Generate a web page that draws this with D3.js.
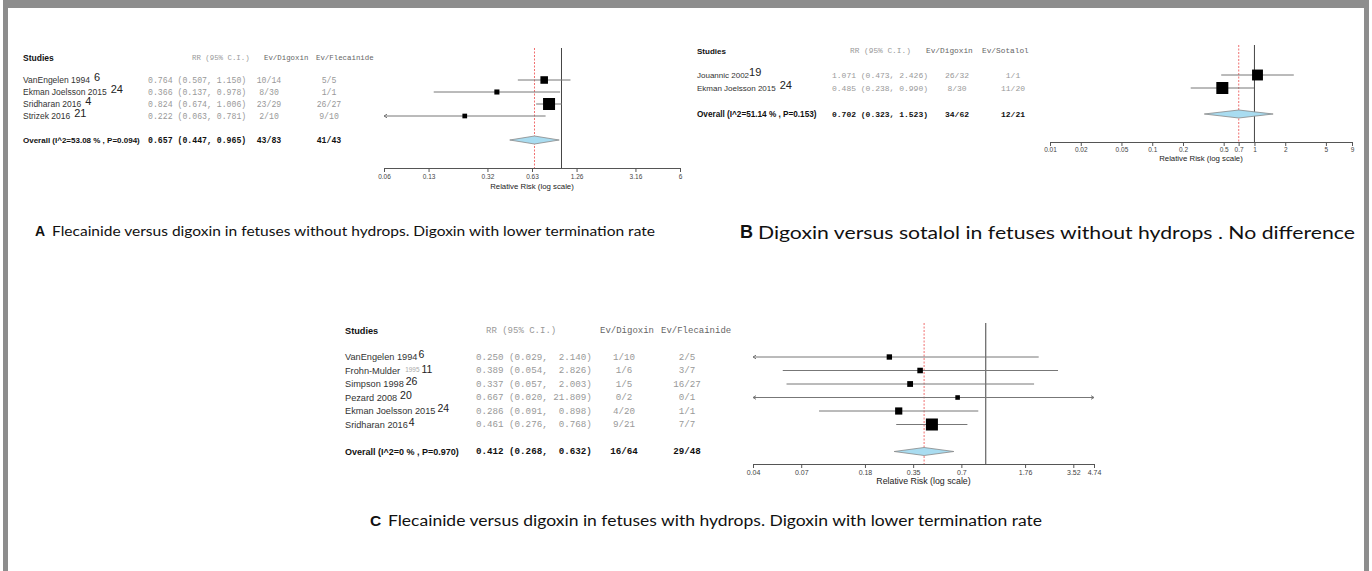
<!DOCTYPE html>
<html>
<head>
<meta charset="utf-8">
<script src="https://cdn.jsdelivr.net/npm/d3@7"></script>
<style>
  body { margin: 0; background: #fff; }
  svg { display: block; }
</style>
</head>
<body>
<svg id="fig" width="1372" height="571"></svg>
<script>
// ---- panel A: flecainide vs digoxin, no hydrops
const studiesA = ["VanEngelen 1994", "Ekman Joelsson 2015", "Sridharan 2016", "Strizek 2016"];
const refsA = ["6", "24", "4", "21"];
const rrA = [0.764, 0.366, 0.824, 0.222];
const loA = [0.507, 0.137, 0.674, 0.063];
const hiA = [1.150, 0.978, 1.006, 0.781];
const evDigA = ["10/14", "8/30", "23/29", "2/10"];
const evFlecA = ["5/5", "1/1", "26/27", "9/10"];
const overallA = [0.657, 0.447, 0.965];
const overallEvA = ["43/83", "41/43"];
const hetA = "Overall (I^2=53.08 % , P=0.094)";
const tickValsA = [0.0632, 0.1264, 0.316, 0.632, 1.264, 3.16, 6.32];
const tickLabsA = ["0.06", "0.13", "0.32", "0.63", "1.26", "3.16", "6"];

// ---- panel B: digoxin vs sotalol, no hydrops
const studiesB = ["Jouannic 2002", "Ekman Joelsson 2015"];
const refsB = ["19", "24"];
const rrB = [1.071, 0.485];
const loB = [0.473, 0.238];
const hiB = [2.426, 0.990];
const evDigB = ["26/32", "8/30"];
const evSotB = ["1/1", "11/20"];
const overallB = [0.702, 0.323, 1.523];
const overallEvB = ["34/62", "12/21"];
const hetB = "Overall (I^2=51.14 % , P=0.153)";
const tickValsB = [0.01, 0.02, 0.05, 0.1, 0.2, 0.5, 0.7, 1, 2, 5, 9];
const tickLabsB = ["0.01", "0.02", "0.05", "0.1", "0.2", "0.5", "0.7", "1", "2", "5", "9"];

// ---- panel C: flecainide vs digoxin, hydrops
const studiesC = ["VanEngelen 1994", "Frohn-Mulder", "Simpson 1998", "Pezard 2008", "Ekman Joelsson 2015", "Sridharan 2016"];
const faintC = ["", "1995", "", "", "", ""];
const refsC = ["6", "11", "26", "20", "24", "4"];
const rrC = [0.250, 0.389, 0.337, 0.667, 0.286, 0.461];
const loC = [0.029, 0.054, 0.057, 0.020, 0.091, 0.276];
const hiC = [2.140, 2.826, 2.003, 21.809, 0.898, 0.768];
const evDigC = ["1/10", "1/6", "1/5", "0/2", "4/20", "9/21"];
const evFlecC = ["2/5", "3/7", "16/27", "0/1", "1/1", "7/7"];
const overallC = [0.412, 0.268, 0.632];
const overallEvC = ["16/64", "29/48"];
const hetC = "Overall (I^2=0 % , P=0.970)";
const tickValsC = [0.0352, 0.0704, 0.176, 0.352, 0.704, 1.76, 3.52, 4.74];
const tickLabsC = ["0.04", "0.07", "0.18", "0.35", "0.7", "1.76", "3.52", "4.74"];

const captions = [
  ["A", "Flecainide versus digoxin in fetuses without hydrops. Digoxin with lower termination rate"],
  ["B", "Digoxin versus sotalol in fetuses without hydrops . No difference"],
  ["C", "Flecainide versus digoxin in fetuses with hydrops. Digoxin with lower termination rate"]
];

const SANS = "'Liberation Sans', Arial, sans-serif";
const MONO = "'Liberation Mono', 'Courier New', monospace";
const svg = d3.select("#fig");

// frame
const frame = svg.append("g").attr("fill", "#8d8d8d");
frame.append("rect").attr("x", 3).attr("y", 0).attr("width", 1366).attr("height", 8);
frame.append("rect").attr("x", 3).attr("y", 0).attr("width", 5).attr("height", 571);
frame.append("rect").attr("x", 1364).attr("y", 0).attr("width", 5).attr("height", 571);

const f3 = d3.format(".3f");
function ciText(r, l, h, w) {
  return f3(r) + " (" + f3(l) + ", " + f3(h).padStart(w) + ")";
}

function forest(d, L) {
  const g = svg.append("g");
  const n = d.names.length;
  const x = d3.scaleLog().domain([d.ticks[0], d.ticks[d.ticks.length - 1]]).range([L.x0, L.x1]);
  const rowY = i => L.row0 + i * L.step;
  const ovY = rowY(n + 1);
  const w = d3.max(d.hi.concat([d.ov[2]]), v => f3(v).length);

  // box size from inverse-variance weight
  const sw = d.lo.map((l, i) => 3.92 / (Math.log(d.hi[i]) - Math.log(l)));
  const boxS = d3.scaleLinear().domain([0, d3.max(sw)]).range([3.3, 12]);

  // headers
  g.append("text").attr("x", L.nameX).attr("y", L.headY).attr("dominant-baseline", "central")
    .attr("font-family", SANS).attr("font-weight", "bold").attr("font-size", L.nameFs).attr("fill", "#111")
    .text("Studies");
  const hdr = [[L.hdrRR, "RR (95% C.I.)", "#999"], [L.hdrDig, d.hdr[0], "#666"], [L.hdrOth, d.hdr[1], "#666"]];
  g.selectAll(".hdr").data(hdr).join("text")
    .attr("x", h => h[0]).attr("y", L.headY).attr("dominant-baseline", "central")
    .attr("font-family", MONO).attr("font-size", L.hdrFs).attr("fill", h => h[2])
    .attr("xml:space", "preserve").text(h => h[1]);

  // study rows
  d.names.forEach((nm, i) => {
    const t = g.append("text").attr("x", L.nameX).attr("y", rowY(i)).attr("dominant-baseline", "central")
      .attr("font-family", SANS).attr("font-size", L.nameFs).attr("fill", "#333");
    t.append("tspan").text(nm);
    if (d.faint && d.faint[i]) {
      t.append("tspan").attr("dx", 5).attr("dy", -2).attr("font-size", L.nameFs * 0.7).attr("fill", "#aaa").text(d.faint[i]);
      t.append("tspan").attr("dx", 2).attr("font-size", L.supFs).attr("fill", "#222").text(d.refs[i]);
    } else {
      t.append("tspan").attr("dx", L.supGap[i]).attr("dy", -3).attr("font-size", L.supFs).attr("fill", "#222").text(d.refs[i]);
    }
    g.append("text").attr("x", L.rrX).attr("y", rowY(i)).attr("dominant-baseline", "central")
      .attr("font-family", MONO).attr("font-size", L.monoFs).attr("fill", "#999")
      .attr("xml:space", "preserve").text(ciText(d.rr[i], d.lo[i], d.hi[i], w));
    [[L.digX, d.evA[i]], [L.othX, d.evB[i]]].forEach(c => {
      g.append("text").attr("x", c[0]).attr("y", rowY(i)).attr("dominant-baseline", "central")
        .attr("text-anchor", "middle").attr("font-family", MONO).attr("font-size", L.monoFs)
        .attr("fill", "#999").text(c[1]);
    });
  });

  // overall row
  g.append("text").attr("x", L.nameX).attr("y", ovY).attr("dominant-baseline", "central")
    .attr("font-family", SANS).attr("font-weight", "bold").attr("font-size", L.ovFs).attr("fill", "#111")
    .text(d.het);
  g.append("text").attr("x", L.rrX).attr("y", ovY).attr("dominant-baseline", "central")
    .attr("font-family", MONO).attr("font-weight", "bold").attr("font-size", L.monoFs).attr("fill", "#111")
    .attr("xml:space", "preserve").text(ciText(d.ov[0], d.ov[1], d.ov[2], w));
  [[L.digX, d.ovEv[0]], [L.othX, d.ovEv[1]]].forEach(c => {
    g.append("text").attr("x", c[0]).attr("y", ovY).attr("dominant-baseline", "central")
      .attr("text-anchor", "middle").attr("font-family", MONO).attr("font-weight", "bold")
      .attr("font-size", L.monoFs).attr("fill", "#111").text(c[1]);
  });

  // reference lines
  g.append("line").attr("x1", x(1)).attr("x2", x(1)).attr("y1", L.top).attr("y2", L.axisY)
    .attr("stroke", "#444").attr("stroke-width", 1);
  g.append("line").attr("x1", x(d.ov[0])).attr("x2", x(d.ov[0])).attr("y1", L.top).attr("y2", L.axisY)
    .attr("stroke", "#f07070").attr("stroke-width", 1).attr("stroke-dasharray", "2,1.5");

  // CIs and boxes
  const [dmin, dmax] = x.domain();
  d.rr.forEach((r, i) => {
    const y = rowY(i);
    const xl = x(Math.max(d.lo[i], dmin)), xh = x(Math.min(d.hi[i], dmax));
    g.append("line").attr("x1", xl).attr("x2", xh).attr("y1", y).attr("y2", y)
      .attr("stroke", "#777").attr("stroke-width", 1);
    if (d.lo[i] <= dmin) {
      g.append("path").attr("d", `M${xl + 3},${y - 1.8}L${xl},${y}L${xl + 3},${y + 1.8}`)
        .attr("fill", "none").attr("stroke", "#777");
    }
    if (d.hi[i] >= dmax) {
      g.append("path").attr("d", `M${xh - 3},${y - 1.8}L${xh},${y}L${xh - 3},${y + 1.8}`)
        .attr("fill", "none").attr("stroke", "#777");
    }
    const s = boxS(sw[i]);
    g.append("rect").attr("x", x(r) - s / 2).attr("y", y - s / 2).attr("width", s).attr("height", s)
      .attr("fill", "#000");
  });

  // summary diamond
  g.append("path")
    .attr("d", `M${x(d.ov[1])},${ovY}L${x(d.ov[0])},${ovY - 4}L${x(d.ov[2])},${ovY}L${x(d.ov[0])},${ovY + 4}Z`)
    .attr("fill", "#a9dcf0").attr("stroke", "#888").attr("stroke-width", 0.8);

  // axis
  const ax = g.append("g").attr("transform", `translate(0,${L.axisY})`)
    .call(d3.axisBottom(x).tickValues(d.ticks).tickFormat((v, i) => d.tickLabs[i]).tickSize(4).tickSizeOuter(0));
  ax.select(".domain").attr("stroke", "#555");
  ax.selectAll(".tick line").attr("stroke", "#555");
  ax.selectAll(".tick text").attr("font-family", SANS).attr("font-size", L.tickFs).attr("fill", "#444")
    .attr("y", L.tickDy).attr("dy", "0.32em");
  g.append("text").attr("x", (L.x0 + L.x1) / 2).attr("y", L.axisY + L.titleDy)
    .attr("text-anchor", "middle").attr("dominant-baseline", "central")
    .attr("font-family", SANS).attr("font-size", L.titleFs).attr("fill", "#222")
    .text("Relative Risk (log scale)");
}

forest(
  { names: studiesA, refs: refsA, rr: rrA, lo: loA, hi: hiA, evA: evDigA, evB: evFlecA,
    ov: overallA, ovEv: overallEvA, het: hetA, hdr: ["Ev/Digoxin", "Ev/Flecainide"],
    ticks: tickValsA, tickLabs: tickLabsA },
  { nameX: 23, rrX: 148, digX: 269, othX: 329, hdrRR: 192, hdrDig: 264, hdrOth: 316,
    headY: 58, row0: 80, step: 12, top: 48, axisY: 168, x0: 384, x1: 680,
    nameFs: 8.5, ovFs: 8, monoFs: 8.2, hdrFs: 7.4, supFs: 11, supGap: [4, 4, 4, 4],
    tickFs: 6.5, tickDy: 9, titleFs: 7.8, titleDy: 18 });

forest(
  { names: studiesB, refs: refsB, rr: rrB, lo: loB, hi: hiB, evA: evDigB, evB: evSotB,
    ov: overallB, ovEv: overallEvB, het: hetB, hdr: ["Ev/Digoxin", "Ev/Sotalol"],
    ticks: tickValsB, tickLabs: tickLabsB },
  { nameX: 697, rrX: 832, digX: 957, othX: 1013, hdrRR: 850, hdrDig: 926, hdrOth: 982,
    headY: 51, row0: 75, step: 13, top: 45, axisY: 142, x0: 1050, x1: 1352,
    nameFs: 8, ovFs: 8.2, monoFs: 8, hdrFs: 7.8, supFs: 11, supGap: [0, 4],
    tickFs: 6.5, tickDy: 8, titleFs: 7.8, titleDy: 16 });

forest(
  { names: studiesC, refs: refsC, faint: faintC, rr: rrC, lo: loC, hi: hiC, evA: evDigC, evB: evFlecC,
    ov: overallC, ovEv: overallEvC, het: hetC, hdr: ["Ev/Digoxin", "Ev/Flecainide"],
    ticks: tickValsC, tickLabs: tickLabsC },
  { nameX: 345, rrX: 476, digX: 624, othX: 687, hdrRR: 486, hdrDig: 600, hdrOth: 661,
    headY: 331, row0: 357, step: 13.5, top: 323, axisY: 464, x0: 753, x1: 1094,
    nameFs: 9.2, ovFs: 9, monoFs: 9.2, hdrFs: 9, supFs: 10.5, supGap: [1, 0, 2, 3, 2, 1],
    tickFs: 7, tickDy: 9, titleFs: 8.8, titleDy: 17 });

// captions: [letter x, y, text x, text width, font size]
const capPos = [[35, 231, 52, 603, 13], [740, 232, 758, 597, 17], [370, 520, 388, 654, 14.5]];
captions.forEach((c, i) => {
  const p = capPos[i];
  svg.append("text").attr("x", p[0]).attr("y", p[1]).attr("dominant-baseline", "central")
    .attr("font-family", SANS).attr("font-weight", "bold").attr("font-size", p[4] + 1).attr("fill", "#111")
    .text(c[0]);
  svg.append("text").attr("x", p[2]).attr("y", p[1]).attr("dominant-baseline", "central")
    .attr("font-family", "Lato, 'Open Sans', sans-serif").attr("font-size", p[4]).attr("fill", "#111")
    .attr("textLength", p[3]).attr("lengthAdjust", "spacingAndGlyphs")
    .text(c[1]);
});
</script>
</body>
</html>
